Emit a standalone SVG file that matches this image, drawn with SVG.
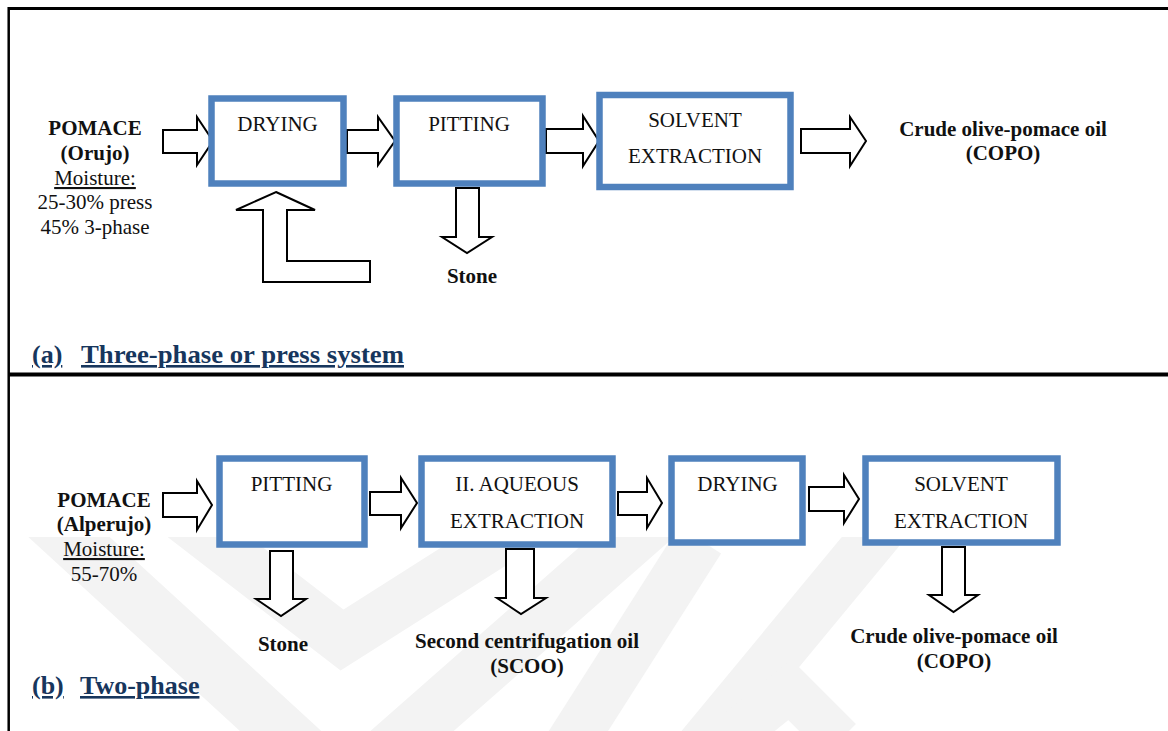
<svg xmlns="http://www.w3.org/2000/svg" width="1168" height="731" viewBox="0 0 1168 731">
  <style>
    .box { fill: #ffffff; stroke: #4f81bd; stroke-width: 6.5; }
    .blk { fill: #ffffff; stroke: #000000; stroke-width: 2; stroke-linejoin: miter; }
    .t { font-family: "Liberation Serif", "Times New Roman", serif; font-size: 21px; fill: #111111; text-anchor: middle; }
    .b { font-weight: bold; }
    .u { text-decoration: underline; }
    .cap { font-family: "Liberation Serif", "Times New Roman", serif; font-size: 26px; font-weight: bold; fill: #17365d; text-decoration: underline; }
    .wm { fill: none; stroke: #f3f3f3; stroke-linecap: butt; stroke-linejoin: miter; }
    .frame { stroke: #000000; fill: none; }
  </style>
  <defs>
    <clipPath id="wmclip">
      <rect x="10" y="537" width="1158" height="194"/>
    </clipPath>
  </defs>

  <rect x="0" y="0" width="1168" height="731" fill="#ffffff"/>

  <!-- faint background emblem -->
  <g id="emblem" clip-path="url(#wmclip)">
    <polyline class="wm" stroke-width="55" points="45,515 345,790 720,460"/>
    <polyline class="wm" stroke-width="50" points="180,515 342,640 610,470"/>
    <polyline class="wm" stroke-width="50" points="560,760 700,540"/>
    <polyline class="wm" stroke-width="50" points="690,760 880,530"/>
    <polyline class="wm" stroke-width="45" points="740,730 790,690 840,740"/>
  </g>

  <!-- frame and section divider -->
  <g id="frame">
    <line class="frame" x1="8.5" y1="8.5" x2="1168" y2="8.5" stroke-width="3"/>
    <line class="frame" x1="8.7" y1="7" x2="8.7" y2="731" stroke-width="2.5"/>
    <line class="frame" x1="8" y1="374.5" x2="1168" y2="374.5" stroke-width="4"/>
  </g>

  <!-- connectors: block arrows -->
  <g id="connectors">
    <polygon class="blk" points="163,130 197,130 197,117 213,141 197,165 197,153 163,153"/>
    <polygon class="blk" points="347,130 378,130 378,117 395,141 378,165 378,153 347,153"/>
    <polygon class="blk" points="546,129 583,129 583,116 599,141 583,166 583,153 546,153"/>
    <polygon class="blk" points="801,129 850,129 850,117 866,141 850,166 850,153 801,153"/>
    <polygon class="blk" points="456,188 479,188 479,237 492,237 467,253 442,237 456,237"/>
    <polygon class="blk" points="276,192 315,210 287,210 287,261 370,261 370,282 263,282 263,210 236,210"/>

    <polygon class="blk" points="163,493 197,493 197,481 212,505 197,530 197,517 163,517"/>
    <polygon class="blk" points="370,492 401,492 401,478 417,503 401,528 401,515 370,515"/>
    <polygon class="blk" points="618,492 647,492 647,478 662,503 647,528 647,515 618,515"/>
    <polygon class="blk" points="809,487 844,487 844,475 859,499 844,523 844,511 809,511"/>
    <polygon class="blk" points="270,551 293,551 293,599 306,599 281,616 256,599 270,599"/>
    <polygon class="blk" points="506,549 534,549 534,598 546,598 521,614 497,598 506,598"/>
    <polygon class="blk" points="942,547 965,547 965,595 978,595 953.5,612 929,595 942,595"/>
  </g>

  <!-- (a) three-phase / press system -->
  <g id="a-pomace">
    <text class="t b" x="95" y="135">POMACE</text>
    <text class="t b" x="95" y="160">(Orujo)</text>
    <text class="t u" x="95" y="185">Moisture:</text>
    <text class="t" x="95" y="209">25-30% press</text>
    <text class="t" x="95" y="234">45% 3-phase</text>
  </g>
  <g id="a-drying">
    <rect class="box" x="211.5" y="98.5" width="132" height="85"/>
    <text class="t" x="277.5" y="131">DRYING</text>
  </g>
  <g id="a-pitting">
    <rect class="box" x="396.5" y="98.5" width="146" height="85"/>
    <text class="t" x="469" y="131">PITTING</text>
  </g>
  <g id="a-solvent">
    <rect class="box" x="599.5" y="95" width="191" height="92"/>
    <text class="t" x="695" y="127">SOLVENT</text>
    <text class="t" x="695" y="163">EXTRACTION</text>
  </g>
  <g id="a-copo">
    <text class="t b" x="1003" y="136">Crude olive-pomace oil</text>
    <text class="t b" x="1003" y="160">(COPO)</text>
  </g>
  <g id="a-stone">
    <text class="t b" x="472" y="283">Stone</text>
  </g>
  <g id="a-caption">
    <text class="cap" x="32" y="363">(a)</text>
    <text class="cap" x="81" y="363" textLength="323" lengthAdjust="spacingAndGlyphs">Three-phase or press system</text>
  </g>

  <!-- (b) two-phase system -->
  <g id="b-pomace">
    <text class="t b" x="104" y="507">POMACE</text>
    <text class="t b" x="104" y="531">(Alperujo)</text>
    <text class="t u" x="104" y="556">Moisture:</text>
    <text class="t" x="104" y="581">55-70%</text>
  </g>
  <g id="b-pitting">
    <rect class="box" x="219.5" y="458.5" width="145" height="86"/>
    <text class="t" x="291.5" y="491">PITTING</text>
  </g>
  <g id="b-aqueous">
    <rect class="box" x="421.5" y="458.5" width="191" height="86"/>
    <text class="t" x="517" y="491">II. AQUEOUS</text>
    <text class="t" x="517" y="528">EXTRACTION</text>
  </g>
  <g id="b-drying">
    <rect class="box" x="671.5" y="458.5" width="131" height="84"/>
    <text class="t" x="737.5" y="491">DRYING</text>
  </g>
  <g id="b-solvent">
    <rect class="box" x="865.5" y="458.5" width="192" height="84"/>
    <text class="t" x="961" y="491">SOLVENT</text>
    <text class="t" x="961" y="528">EXTRACTION</text>
  </g>
  <g id="b-stone">
    <text class="t b" x="283" y="651">Stone</text>
  </g>
  <g id="b-scoo">
    <text class="t b" x="527" y="648">Second centrifugation oil</text>
    <text class="t b" x="527" y="673">(SCOO)</text>
  </g>
  <g id="b-copo">
    <text class="t b" x="954" y="643">Crude olive-pomace oil</text>
    <text class="t b" x="954" y="668">(COPO)</text>
  </g>
  <g id="b-caption">
    <text class="cap" x="32" y="694">(b)</text>
    <text class="cap" x="80" y="694">Two-phase</text>
  </g>
</svg>
